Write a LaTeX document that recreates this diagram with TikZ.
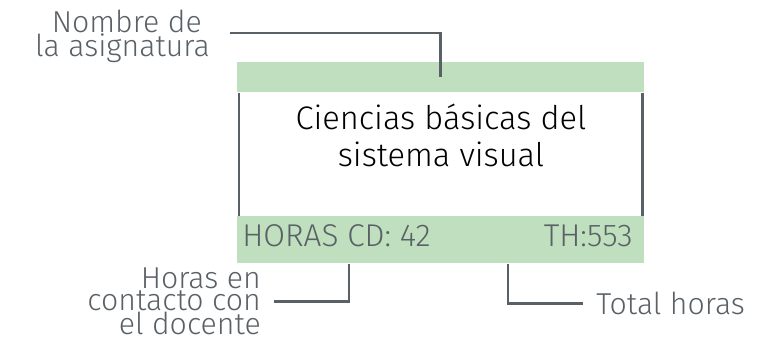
\documentclass[tikz,border=0pt]{standalone}
\usepackage{fontspec}
\setmainfont{Fira Sans}[UprightFont=* Light]
\usetikzlibrary{positioning}
\definecolor{barverde}{HTML}{BFDFBE}
\definecolor{grislinea}{HTML}{5A6166}

\begin{document}
\begin{tikzpicture}[x=0.025cm,y=-0.025cm,
    linea/.style={draw=grislinea,line width=2.1pt},
    barra/.style={fill=barverde,draw=none,minimum width=407*0.025cm,inner sep=0pt},
    etiqueta/.style={text=grislinea,inner sep=0pt,font=\fontsize{21.5}{16.2}\selectfont},
    dato/.style={text=grislinea,inner sep=0pt,font=\fontsize{22.4}{24}\selectfont}]
    \useasboundingbox (0,0) rectangle (777,339);

    % bars
    \node[barra,minimum height=30*0.025cm,anchor=north west] (cabeza) at (237,62) {};
    \node[barra,minimum height=47*0.025cm,anchor=north west] (pie) at (237,216) {};

    % frame sides
    \draw[linea] ([xshift=2*0.025cm]cabeza.south west) -- ([xshift=2*0.025cm]pie.north west);
    \draw[linea] ([xshift=-2.5*0.025cm]cabeza.south east) -- ([xshift=-2.5*0.025cm]pie.north east);

    % title
    \node[align=center,inner sep=0pt,font=\fontsize{23.2}{26.7}\selectfont,anchor=base] (titulo) at (441,167)
        {Ciencias básicas del\\sistema visual};

    % hours
    \node[dato,anchor=base west] (cd) at (242,247) {HORAS CD: 42};
    \node[dato,anchor=base east] (th) at (633,247) {TH:553};

    % labels
    \node[etiqueta,align=right,anchor=base east] (nombre) at (210,57) {Nombre de\hspace*{0.2cm}\\la asignatura};
    \node[etiqueta,align=right,anchor=base east] (contacto) at (261,335) {Horas en\\contacto con\\el docente};
    \node[etiqueta,anchor=base west] (total) at (596,315) {Total horas};

    % connectors
    \draw[linea] ([xshift=20*0.025cm]nombre.east |- 0,33) -| (cabeza.center);
    \draw[linea] ([xshift=13*0.025cm]contacto.east) -| ([xshift=112*0.025cm]pie.south west);
    \draw[linea] ([xshift=-13*0.025cm]total.west) -| ([xshift=271*0.025cm]pie.south west);
\end{tikzpicture}
\end{document}
